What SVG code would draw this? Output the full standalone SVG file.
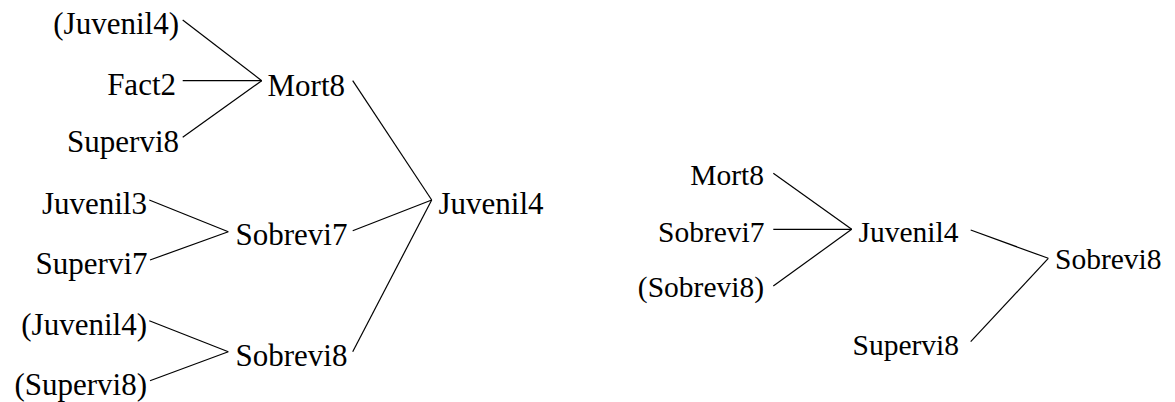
<svg xmlns="http://www.w3.org/2000/svg" width="1175" height="402" viewBox="0 0 1175 402">
<style>
text{font-family:"Liberation Serif","Times New Roman",serif;fill:#000}
.l{font-size:31px}
.r{font-size:29.5px}
.e{text-anchor:end}
#connectors line{stroke:#000;stroke-width:1.2;fill:none}
</style>
<rect width="1175" height="402" fill="#fff"/>
<g id="connectors">
<line x1="182.7" y1="20" x2="261.7" y2="80.7"/>
<line x1="182.7" y1="80.7" x2="261.7" y2="80.7"/>
<line x1="182.7" y1="137.3" x2="261.7" y2="80.7"/>
<line x1="352.7" y1="80.7" x2="431.7" y2="200"/>
<line x1="149.3" y1="200" x2="228.3" y2="231.7"/>
<line x1="150" y1="260" x2="228.3" y2="231.7"/>
<line x1="352.7" y1="230.7" x2="431.7" y2="200"/>
<line x1="149.3" y1="320.7" x2="228.3" y2="351.7"/>
<line x1="150" y1="380.7" x2="228.3" y2="351.7"/>
<line x1="352.7" y1="351.7" x2="431.7" y2="200"/>
<line x1="773.3" y1="173.3" x2="851.7" y2="229.3"/>
<line x1="773.3" y1="229.3" x2="851.7" y2="229.3"/>
<line x1="773.3" y1="286" x2="851.7" y2="229.3"/>
<line x1="970.7" y1="230" x2="1048.3" y2="258.3"/>
<line x1="970.7" y1="341.7" x2="1048.3" y2="258.3"/>
</g>
<g id="n-juvenil4-p1"><text class="l e" x="179" y="34">(Juvenil4)</text></g>
<g id="n-fact2"><text class="l e" x="176" y="95">Fact2</text></g>
<g id="n-supervi8-a"><text class="l e" x="179" y="151.5">Supervi8</text></g>
<g id="n-mort8-a"><text class="l" x="267.5" y="95.5">Mort8</text></g>
<g id="n-juvenil3"><text class="l e" x="147" y="214">Juvenil3</text></g>
<g id="n-supervi7"><text class="l e" x="147.5" y="274">Supervi7</text></g>
<g id="n-sobrevi7-a"><text class="l" x="235.5" y="245">Sobrevi7</text></g>
<g id="n-juvenil4-a"><text class="l" x="438.5" y="214">Juvenil4</text></g>
<g id="n-juvenil4-p2"><text class="l e" x="147" y="335">(Juvenil4)</text></g>
<g id="n-supervi8-p"><text class="l e" x="147" y="395">(Supervi8)</text></g>
<g id="n-sobrevi8-a"><text class="l" x="235.5" y="365.5">Sobrevi8</text></g>
<g id="n-mort8-b"><text class="r e" x="764" y="185">Mort8</text></g>
<g id="n-sobrevi7-b"><text class="r e" x="764.5" y="241.5">Sobrevi7</text></g>
<g id="n-sobrevi8-p"><text class="r e" x="764" y="297">(Sobrevi8)</text></g>
<g id="n-juvenil4-b"><text class="r" x="858.5" y="241.5">Juvenil4</text></g>
<g id="n-supervi8-b"><text class="r" x="852.5" y="354.5">Supervi8</text></g>
<g id="n-sobrevi8-b"><text class="r" x="1055" y="269">Sobrevi8</text></g>
</svg>
